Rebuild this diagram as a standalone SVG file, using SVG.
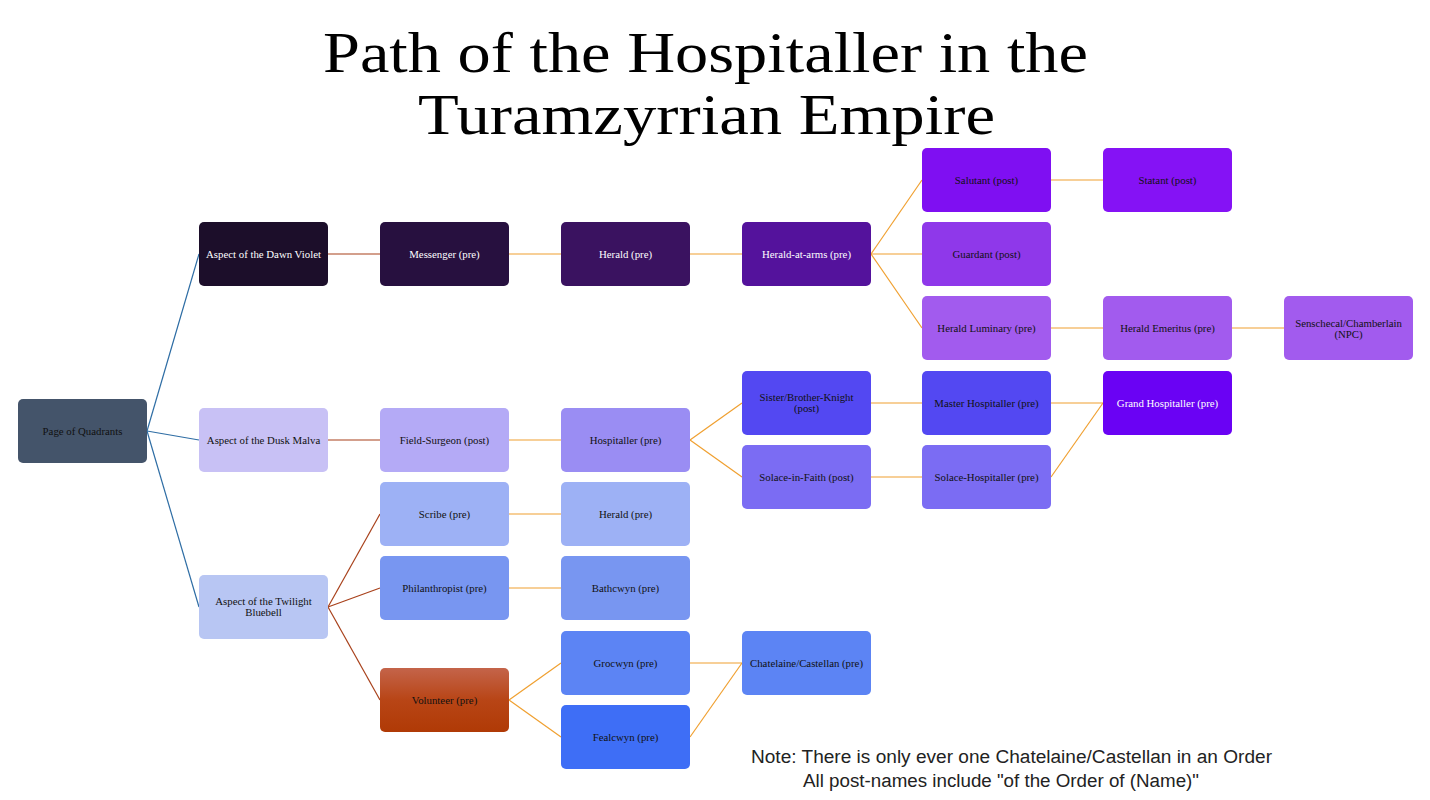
<svg xmlns="http://www.w3.org/2000/svg" width="1430" height="800" viewBox="0 0 1430 800">
<defs>
<linearGradient id="gVol" x1="0" y1="0" x2="0" y2="1">
<stop offset="0" stop-color="#C4644A"/>
<stop offset="0.5" stop-color="#B84516"/>
<stop offset="1" stop-color="#B03A06"/>
</linearGradient>
</defs>
<style>
.n rect{stroke:none}
.n text{font-family:"Liberation Serif","DejaVu Serif",serif;font-size:10.8px;text-anchor:middle;fill:#111}
.w text{fill:#fff}
.c line{stroke-width:1.2;fill:none}
.b{stroke:#2E6DA4}
.r{stroke:#A8401A}
.o{stroke:#F0A030}
.title{font-family:"Liberation Serif","DejaVu Serif",serif;font-size:57px;text-anchor:middle;fill:#000}
.note{font-family:"Liberation Sans","Open Sans",sans-serif;font-size:18px;text-anchor:middle;fill:#222}
</style>
<rect width="1430" height="800" fill="#fff"/>
<text class="title" x="705.5" y="72" textLength="765" lengthAdjust="spacingAndGlyphs">Path of the Hospitaller in the</text>
<text class="title" x="706.5" y="134" textLength="577" lengthAdjust="spacingAndGlyphs">Turamzyrrian Empire</text>

<g id="connectors" class="c">
<line class="b" x1="147" y1="431" x2="199" y2="254"/>
<line class="b" x1="147" y1="431" x2="199" y2="440"/>
<line class="b" x1="147" y1="431" x2="199" y2="607"/>
<line class="r" x1="328" y1="254" x2="380" y2="254"/>
<line class="r" x1="328" y1="440" x2="380" y2="440"/>
<line class="r" x1="328" y1="607" x2="380" y2="514"/>
<line class="r" x1="328" y1="607" x2="380" y2="588"/>
<line class="r" x1="328" y1="607" x2="380" y2="700"/>
<line class="o" x1="509" y1="254" x2="561" y2="254"/>
<line class="o" x1="690" y1="254" x2="742" y2="254"/>
<line class="o" x1="871" y1="254" x2="922" y2="180"/>
<line class="o" x1="871" y1="254" x2="922" y2="254"/>
<line class="o" x1="871" y1="254" x2="922" y2="328"/>
<line class="o" x1="1051" y1="180" x2="1103" y2="180"/>
<line class="o" x1="1051" y1="328" x2="1103" y2="328"/>
<line class="o" x1="1232" y1="328" x2="1284" y2="328"/>
<line class="o" x1="509" y1="440" x2="561" y2="440"/>
<line class="o" x1="690" y1="440" x2="742" y2="403"/>
<line class="o" x1="690" y1="440" x2="742" y2="477"/>
<line class="o" x1="871" y1="403" x2="922" y2="403"/>
<line class="o" x1="871" y1="477" x2="922" y2="477"/>
<line class="o" x1="1051" y1="403" x2="1103" y2="403"/>
<line class="o" x1="1051" y1="477" x2="1103" y2="403"/>
<line class="o" x1="509" y1="514" x2="561" y2="514"/>
<line class="o" x1="509" y1="588" x2="561" y2="588"/>
<line class="o" x1="509" y1="700" x2="561" y2="663"/>
<line class="o" x1="509" y1="700" x2="561" y2="737"/>
<line class="o" x1="690" y1="663" x2="742" y2="663"/>
<line class="o" x1="690" y1="737" x2="742" y2="663"/>
</g>

<g id="page" class="n"><rect x="18" y="399" width="129" height="64" rx="5" fill="#44546A" stroke="#3A4A60"/><text x="82.5" y="435">Page of Quadrants</text></g>

<g id="dawn" class="n w"><rect x="199" y="222" width="129" height="64" rx="5" fill="#1C0E2A"/><text x="263.5" y="258">Aspect of the Dawn Violet</text></g>
<g id="messenger" class="n w"><rect x="380" y="222" width="129" height="64" rx="5" fill="#27103F"/><text x="444.5" y="258">Messenger (pre)</text></g>
<g id="herald1" class="n w"><rect x="561" y="222" width="129" height="64" rx="5" fill="#3A1260"/><text x="625.5" y="258">Herald (pre)</text></g>
<g id="heraldarms" class="n w"><rect x="742" y="222" width="129" height="64" rx="5" fill="#54129C"/><text x="806.5" y="258">Herald-at-arms (pre)</text></g>
<g id="salutant" class="n"><rect x="922" y="148" width="129" height="64" rx="5" fill="#7F0FF2"/><text x="986.5" y="184">Salutant (post)</text></g>
<g id="statant" class="n"><rect x="1103" y="148" width="129" height="64" rx="5" fill="#8512F5"/><text x="1167.5" y="184">Statant (post)</text></g>
<g id="guardant" class="n"><rect x="922" y="222" width="129" height="64" rx="5" fill="#8F38EA"/><text x="986.5" y="258">Guardant (post)</text></g>
<g id="luminary" class="n"><rect x="922" y="296" width="129" height="64" rx="5" fill="#A25BEE"/><text x="986.5" y="332">Herald Luminary (pre)</text></g>
<g id="emeritus" class="n"><rect x="1103" y="296" width="129" height="64" rx="5" fill="#A25BEE"/><text x="1167.5" y="332">Herald Emeritus (pre)</text></g>
<g id="senschecal" class="n"><rect x="1284" y="296" width="129" height="64" rx="5" fill="#A25BEE"/><text x="1348.5" y="327">Senschecal/Chamberlain</text><text x="1348.5" y="338">(NPC)</text></g>

<g id="dusk" class="n"><rect x="199" y="408" width="129" height="64" rx="5" fill="#C8C1F5"/><text x="263.5" y="444">Aspect of the Dusk Malva</text></g>
<g id="fieldsurgeon" class="n"><rect x="380" y="408" width="129" height="64" rx="5" fill="#B4AAF6"/><text x="444.5" y="444">Field-Surgeon (post)</text></g>
<g id="hospitaller" class="n"><rect x="561" y="408" width="129" height="64" rx="5" fill="#9A8DF3"/><text x="625.5" y="444">Hospitaller (pre)</text></g>
<g id="knight" class="n"><rect x="742" y="371" width="129" height="64" rx="5" fill="#5348F2"/><text x="806.5" y="401">Sister/Brother-Knight</text><text x="806.5" y="412">(post)</text></g>
<g id="solacefaith" class="n"><rect x="742" y="445" width="129" height="64" rx="5" fill="#7B6CF3"/><text x="806.5" y="481">Solace-in-Faith (post)</text></g>
<g id="master" class="n"><rect x="922" y="371" width="129" height="64" rx="5" fill="#5348F2"/><text x="986.5" y="407">Master Hospitaller (pre)</text></g>
<g id="solacehosp" class="n"><rect x="922" y="445" width="129" height="64" rx="5" fill="#7B6CF3"/><text x="986.5" y="481">Solace-Hospitaller (pre)</text></g>
<g id="grand" class="n w"><rect x="1103" y="371" width="129" height="64" rx="5" fill="#6A02F4"/><text x="1167.5" y="407">Grand Hospitaller (pre)</text></g>

<g id="twilight" class="n"><rect x="199" y="575" width="129" height="64" rx="5" fill="#B8C6F3"/><text x="263.5" y="605">Aspect of the Twilight</text><text x="263.5" y="616">Bluebell</text></g>
<g id="scribe" class="n"><rect x="380" y="482" width="129" height="64" rx="5" fill="#9DB1F5"/><text x="444.5" y="518">Scribe (pre)</text></g>
<g id="herald2" class="n"><rect x="561" y="482" width="129" height="64" rx="5" fill="#9DB1F5"/><text x="625.5" y="518">Herald (pre)</text></g>
<g id="philanthropist" class="n"><rect x="380" y="556" width="129" height="64" rx="5" fill="#7896F1"/><text x="444.5" y="592">Philanthropist (pre)</text></g>
<g id="bathcwyn" class="n"><rect x="561" y="556" width="129" height="64" rx="5" fill="#7896F1"/><text x="625.5" y="592">Bathcwyn (pre)</text></g>
<g id="volunteer" class="n"><rect x="380" y="668" width="129" height="64" rx="5" fill="url(#gVol)"/><text x="444.5" y="704">Volunteer (pre)</text></g>
<g id="grocwyn" class="n"><rect x="561" y="631" width="129" height="64" rx="5" fill="#5C84F4"/><text x="625.5" y="667">Grocwyn (pre)</text></g>
<g id="fealcwyn" class="n"><rect x="561" y="705" width="129" height="64" rx="5" fill="#3E6EF6"/><text x="625.5" y="741">Fealcwyn (pre)</text></g>
<g id="chatelaine" class="n"><rect x="742" y="631" width="129" height="64" rx="5" fill="#5C84F4"/><text x="806.5" y="667">Chatelaine/Castellan (pre)</text></g>

<text class="note" x="1011.5" y="763" textLength="521" lengthAdjust="spacingAndGlyphs">Note: There is only ever one Chatelaine/Castellan in an Order</text>
<text class="note" x="1001" y="787" textLength="396" lengthAdjust="spacingAndGlyphs">All post-names include "of the Order of (Name)"</text>
</svg>
